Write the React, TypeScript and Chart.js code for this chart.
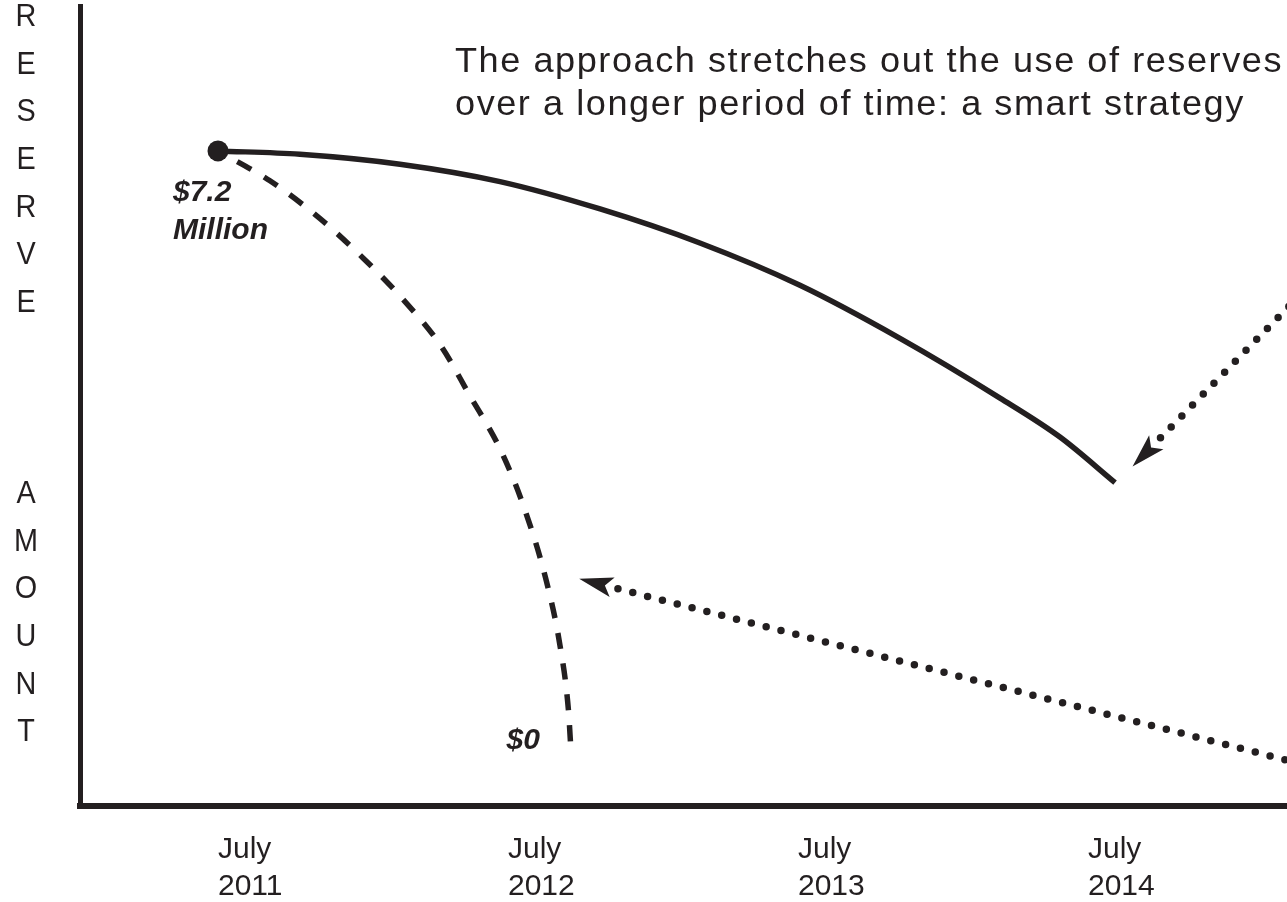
import React, { useEffect, useRef } from 'react';
import { Chart, registerables } from 'chart.js';

Chart.register(...registerables);

const INK = '#231f20';
const FONT = "'Liberation Sans', Arial, Helvetica, sans-serif";

// x values are months since July 2011; y values are $ millions
const tickMonths = [0, 12, 24, 36];
const tickLabels = [['July', '2011'], ['July', '2012'], ['July', '2013'], ['July', '2014']];

const solidMonths = [0, 3.39, 7.53, 11.67, 15.81, 19.94, 24.08, 28.22, 32.36, 34.84, 37.12];
const solidValues = [7.2, 7.16, 7.04, 6.83, 6.5, 6.09, 5.58, 4.94, 4.22, 3.75, 3.2];

const dashedMonths = [0, 2.15, 4.2, 6.0, 7.5, 9.2, 10.4, 11.7, 12.7, 13.6, 14.15, 14.5, 14.6];
const dashedValues = [7.2, 6.84, 6.39, 5.91, 5.46, 4.86, 4.26, 3.59, 2.87, 2.0, 1.24, 0.46, 0];

const arrowUpperMonths = [39.0, 44.8];
const arrowUpperValues = [3.74, 5.47];
const arrowLowerMonths = [16.55, 44.8];
const arrowLowerValues = [1.92, -0.19];

const yLabelLetters = ['R', 'E', 'S', 'E', 'R', 'V', 'E', '', '', '', 'A', 'M', 'O', 'U', 'N', 'T'];
const noteLines = ['The approach stretches out the use of reserves', 'over a longer period of time: a smart strategy'];
const startLabel = ['$7.2', 'Million'];
const endLabel = '$0';

const pts = (xs: number[], ys: number[]) => xs.map((x, i) => ({ x, y: ys[i] }));

function drawArrowHead(ctx: CanvasRenderingContext2D, p0: any, p1: any) {
  const dx = p0.x - p1.x;
  const dy = p0.y - p1.y;
  const d = Math.hypot(dx, dy) || 1;
  const ux = dx / d;
  const uy = dy / d;
  const back = 40;
  const len = 34;
  const half = 10;
  const tipX = p0.x + ux * back;
  const tipY = p0.y + uy * back;
  const nx = -uy;
  const ny = ux;
  const bx = tipX - ux * len;
  const by = tipY - uy * len;
  ctx.beginPath();
  ctx.moveTo(tipX, tipY);
  ctx.lineTo(bx + nx * half, by + ny * half);
  ctx.lineTo(tipX - ux * len * 0.78, tipY - uy * len * 0.78);
  ctx.lineTo(bx - nx * half, by - ny * half);
  ctx.closePath();
  ctx.fill();
}

const decorPlugin = {
  id: 'decor',
  afterDatasetsDraw(chart: any) {
    const ctx: CanvasRenderingContext2D = chart.ctx;
    ctx.save();
    ctx.fillStyle = INK;
    chart.data.datasets.forEach((ds: any, i: number) => {
      if (!ds.arrow) return;
      const meta = chart.getDatasetMeta(i);
      drawArrowHead(ctx, meta.data[0], meta.data[1]);
    });

    const solidMeta = chart.getDatasetMeta(0);
    const p0 = solidMeta.data[0];
    ctx.font = `italic bold 30px ${FONT}`;
    ctx.textAlign = 'left';
    ctx.textBaseline = 'alphabetic';
    ctx.fillText(startLabel[0], p0.x - 45, p0.y + 50);
    ctx.fillText(startLabel[1], p0.x - 45, p0.y + 88);

    const dashedMeta = chart.getDatasetMeta(1);
    const pe = dashedMeta.data[dashedMeta.data.length - 1];
    ctx.textAlign = 'right';
    ctx.fillText(endLabel, pe.x - 31, pe.y + 1);

    ctx.font = `35px ${FONT}`;
    ctx.textAlign = 'left';
    (ctx as any).letterSpacing = '1.5px';
    const w0 = ctx.measureText(noteLines[0]).width;
    const sx = 828 / w0;
    noteLines.forEach((line, i) => {
      ctx.save();
      ctx.translate(455, 72 + i * 43);
      ctx.scale(sx, 1);
      ctx.fillText(line, 0, 0);
      ctx.restore();
    });
    (ctx as any).letterSpacing = '0px';

    ctx.font = `32px ${FONT}`;
    ctx.textAlign = 'center';
    ctx.textBaseline = 'middle';
    yLabelLetters.forEach((ch, i) => {
      if (!ch) return;
      ctx.save();
      ctx.translate(26, 17 + i * 47.7);
      ctx.scale(0.9, 1);
      ctx.fillText(ch, 0, 0);
      ctx.restore();
    });
    ctx.restore();
  },
};

export default function App() {
  const ref = useRef<HTMLCanvasElement | null>(null);

  useEffect(() => {
    if (!ref.current) return;
    const chart = new Chart(ref.current, {
      type: 'line',
      data: {
        datasets: [
          {
            data: pts(solidMonths, solidValues),
            borderColor: INK,
            borderWidth: 5.5,
            borderCapStyle: 'butt',
            cubicInterpolationMode: 'monotone',
            pointRadius: solidMonths.map((_, i) => (i === 0 ? 10.5 : 0)),
            pointBackgroundColor: INK,
            pointBorderWidth: 0,
            fill: false,
          },
          {
            data: pts(dashedMonths, dashedValues),
            borderColor: INK,
            borderWidth: 5.5,
            borderDash: [16, 15],
            borderDashOffset: 9,
            borderCapStyle: 'butt',
            cubicInterpolationMode: 'monotone',
            pointRadius: 0,
            fill: false,
          },
          {
            arrow: true,
            data: pts(arrowUpperMonths, arrowUpperValues),
            borderColor: INK,
            borderWidth: 7.5,
            borderDash: [0, 15.3],
            borderCapStyle: 'round',
            tension: 0,
            pointRadius: 0,
            fill: false,
          },
          {
            arrow: true,
            data: pts(arrowLowerMonths, arrowLowerValues),
            borderColor: INK,
            borderWidth: 7.5,
            borderDash: [0, 15.3],
            borderCapStyle: 'round',
            tension: 0,
            pointRadius: 0,
            fill: false,
          },
        ] as any,
      },
      options: {
        animation: false,
        responsive: false,
        events: [],
        layout: { autoPadding: false, padding: { left: 80, top: 6, right: 0, bottom: 0 } },
        plugins: { legend: { display: false }, tooltip: { enabled: false } },
        scales: {
          x: {
            type: 'linear',
            min: -5.71,
            max: 44.235,
            afterBuildTicks: (s: any) => {
              s.ticks = tickMonths.map((v) => ({ value: v }));
            },
            afterFit: (s: any) => {
              s.height = 96;
              s.paddingLeft = 0;
              s.paddingRight = 0;
            },
            grid: { display: false, drawTicks: false },
            border: { display: true, color: INK, width: 6 },
            ticks: {
              align: 'start',
              padding: 25,
              color: INK,
              maxRotation: 0,
              autoSkip: false,
              font: { family: FONT, size: 30, lineHeight: 1.233 },
              callback: (_v: any, i: number) => tickLabels[i] ?? '',
            },
          },
          y: {
            type: 'linear',
            min: -0.6995,
            max: 8.948,
            afterFit: (s: any) => {
              s.width = 0;
            },
            grid: { display: false, drawTicks: false },
            border: { display: true, color: INK, width: 5 },
            ticks: { display: false },
          },
        },
      } as any,
      plugins: [decorPlugin],
    });
    return () => chart.destroy();
  }, []);

  return (
    <div style={{ position: 'fixed', left: 0, top: 0, width: 1287, height: 902, background: '#fff' }}>
      <canvas ref={ref} width={1287} height={902} />
    </div>
  );
}
